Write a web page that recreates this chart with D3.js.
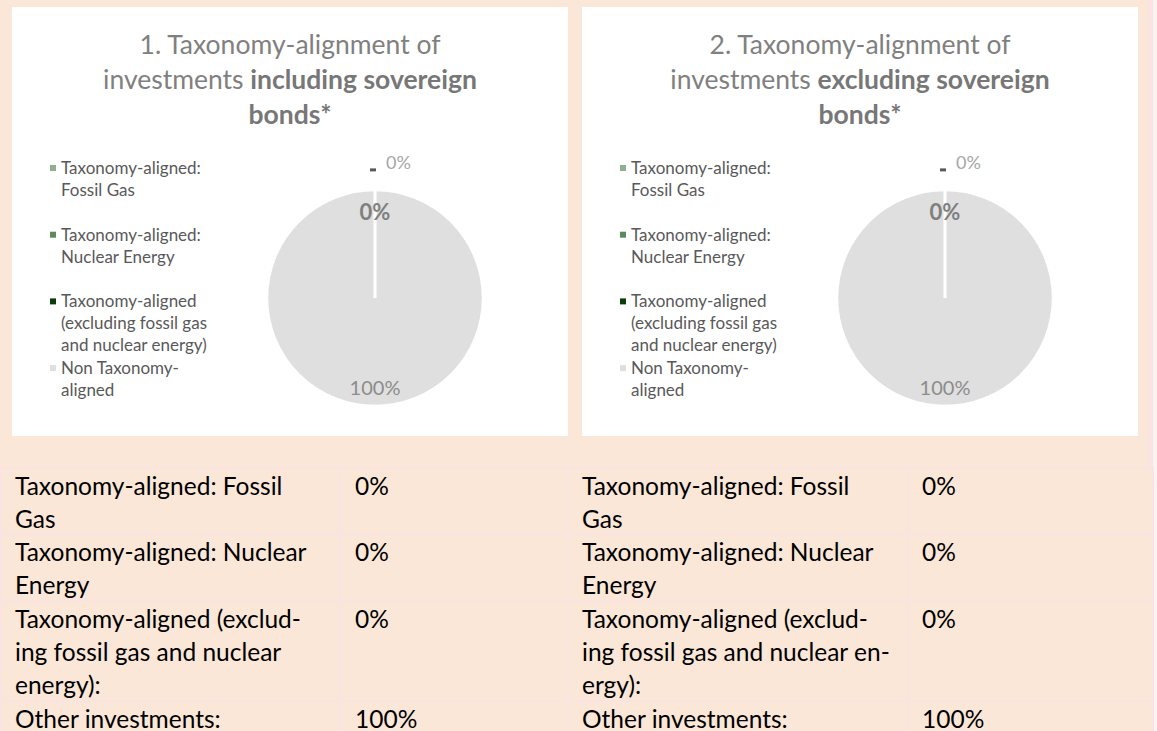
<!DOCTYPE html>
<html>
<head>
<meta charset="utf-8">
<script src="https://cdn.jsdelivr.net/npm/d3@7"></script>
<style>
  body { margin: 0; background: #fae7d7; }
  svg { display: block; }
  text { font-family: Lato, "Open Sans", sans-serif; }
</style>
</head>
<body>
<script>
//#### DATA ####
var categories = ["Taxonomy-aligned: Fossil Gas", "Taxonomy-aligned: Nuclear Energy",
                  "Taxonomy-aligned (excluding fossil gas and nuclear energy)", "Non Taxonomy-aligned"];
var legendLines = [["Taxonomy-aligned:", "Fossil Gas"],
                   ["Taxonomy-aligned:", "Nuclear Energy"],
                   ["Taxonomy-aligned", "(excluding fossil gas", "and nuclear energy)"],
                   ["Non Taxonomy-", "aligned"]];
var inclSovereign = [0, 0, 0, 100];
var exclSovereign = [0, 0, 0, 100];

var titleIncl = [["1. Taxonomy-alignment of", ""], ["investments ", "including sovereign"], ["", "bonds*"]];
var titleExcl = [["2. Taxonomy-alignment of", ""], ["investments ", "excluding sovereign"], ["", "bonds*"]];

var tableLabelsIncl = [["Taxonomy-aligned: Fossil", "Gas"],
                       ["Taxonomy-aligned: Nuclear", "Energy"],
                       ["Taxonomy-aligned (exclud-", "ing fossil gas and nuclear", "energy):"],
                       ["Other investments:"]];
var tableLabelsExcl = [["Taxonomy-aligned: Fossil", "Gas"],
                       ["Taxonomy-aligned: Nuclear", "Energy"],
                       ["Taxonomy-aligned (exclud-", "ing fossil gas and nuclear en-", "ergy):"],
                       ["Other investments:"]];

var colors = ["#8fb08f", "#5b8a5b", "#0a3d0a", "#dfdfdf"];
//##############

var width = 1157, height = 731;
var peach = "#fae7d7", pink = "#fce3e3";

var svg = d3.select("body").append("svg")
  .attr("width", width)
  .attr("height", height);

svg.append("rect").attr("width", width).attr("height", height).attr("fill", peach);
// thin pink frame on the right of the chart area
svg.append("rect").attr("x", 1148).attr("y", 0).attr("width", 5).attr("height", 468).attr("fill", pink);
svg.append("rect").attr("x", 1153).attr("y", 0).attr("width", 4).attr("height", height).attr("fill", "#fdf3f0");

var fmt = function(v) { return v + "%"; };

function drawPanel(x0, title, values) {
  var g = svg.append("g").attr("transform", "translate(" + x0 + ",7)");
  var pw = 556, ph = 429;
  g.append("rect").attr("width", pw).attr("height", ph).attr("fill", "#fff");

  // title
  var t = g.append("text")
    .attr("text-anchor", "middle")
    .attr("font-size", 26.5)
    .attr("fill", "#808080");
  title.forEach(function(line, i) {
    var ts = t.append("tspan").attr("x", pw / 2).attr("y", 47 + i * 35);
    if (line[0]) ts.append("tspan").text(line[0]);
    if (line[1]) ts.append("tspan").attr("font-weight", "bold").attr("fill", "#777").text(line[1]);
  });

  // legend
  var leg = g.selectAll(".leg").data(legendLines).enter().append("g")
    .attr("class", "leg")
    .attr("transform", function(d, i) { return "translate(38," + (161 + i * 66.7) + ")"; });
  leg.append("rect")
    .attr("x", 0).attr("y", -3).attr("width", 6).attr("height", 6)
    .attr("fill", function(d, i) { return colors[i]; });
  leg.selectAll("text").data(function(d) { return d; }).enter().append("text")
    .attr("x", 11)
    .attr("y", function(d, j) { return j * 22 + 6; })
    .attr("font-size", 17)
    .attr("fill", "#595959")
    .text(function(d) { return d; });

  // pie
  var r = 108;
  var cx = 363, cy = 291;
  var pie = d3.pie().sort(null).value(function(d) { return d; });
  var arcs = pie(values);
  var arc = d3.arc().innerRadius(0).outerRadius(r);
  var labelArc = d3.arc().innerRadius(r * 0.8).outerRadius(r * 0.8);
  var pg = g.append("g").attr("transform", "translate(" + cx + "," + cy + ")");

  // draw in reverse so the zero-width slice borders sit on top of the big slice
  pg.selectAll("path").data(arcs.slice().reverse()).enter().append("path")
    .attr("d", arc)
    .attr("fill", function(d) { return colors[d.index]; })
    .attr("stroke", "#fff")
    .attr("stroke-width", 2.5);

  arcs.forEach(function(d, i) {
    var c = labelArc.centroid(d);
    if (i === 0) {
      // outside label with short leader
      pg.append("rect").attr("x", c[0] - 5).attr("y", -r * 1.2).attr("width", 6).attr("height", 3).attr("fill", "#595959");
      pg.append("text")
        .attr("x", c[0] + 11).attr("y", -r * 1.19)
        .attr("font-size", 18).attr("fill", "#a6a6a6")
        .text(fmt(d.data));
    } else if (i === 3) {
      pg.append("text")
        .attr("x", c[0]).attr("y", c[1] + 11)
        .attr("text-anchor", "middle")
        .attr("font-size", 20).attr("fill", "#8c8c8c")
        .text(fmt(d.data));
    } else if (i === 1) {
      pg.append("text")
        .attr("x", c[0]).attr("y", c[1] + 8)
        .attr("text-anchor", "middle")
        .attr("font-size", 22).attr("font-weight", "bold").attr("fill", "#7f7f7f")
        .text(fmt(d.data));
    }
  });
}

drawPanel(12, titleIncl, inclSovereign);
drawPanel(582, titleExcl, exclSovereign);

// #### tables ####
var rowTops = [468, 534, 601, 701, 760];

function drawTable(x0, x1, x2, labels, values) {
  var g = svg.append("g");
  // horizontal borders
  rowTops.slice(0, 4).forEach(function(y) {
    g.append("rect").attr("x", x0).attr("y", y - 1).attr("width", x2 - x0).attr("height", 2).attr("fill", pink);
  });
  [x0, x1, x2].forEach(function(x) {
    g.append("rect").attr("x", x - 1).attr("y", 467).attr("width", 2).attr("height", height - 467).attr("fill", pink);
  });
  labels.forEach(function(lines, i) {
    lines.forEach(function(s, j) {
      g.append("text")
        .attr("x", x0 + 14).attr("y", rowTops[i] + 27 + j * 33)
        .attr("font-size", 24.5).attr("fill", "#000")
        .text(s);
    });
    g.append("text")
      .attr("x", x1 + 14).attr("y", rowTops[i] + 27)
      .attr("font-size", 24.5).attr("fill", "#000")
      .text(fmt(values[i]));
  });
}

drawTable(1, 341, 568, tableLabelsIncl, inclSovereign);
drawTable(568, 908, 1153, tableLabelsExcl, exclSovereign);
</script>
</body>
</html>
